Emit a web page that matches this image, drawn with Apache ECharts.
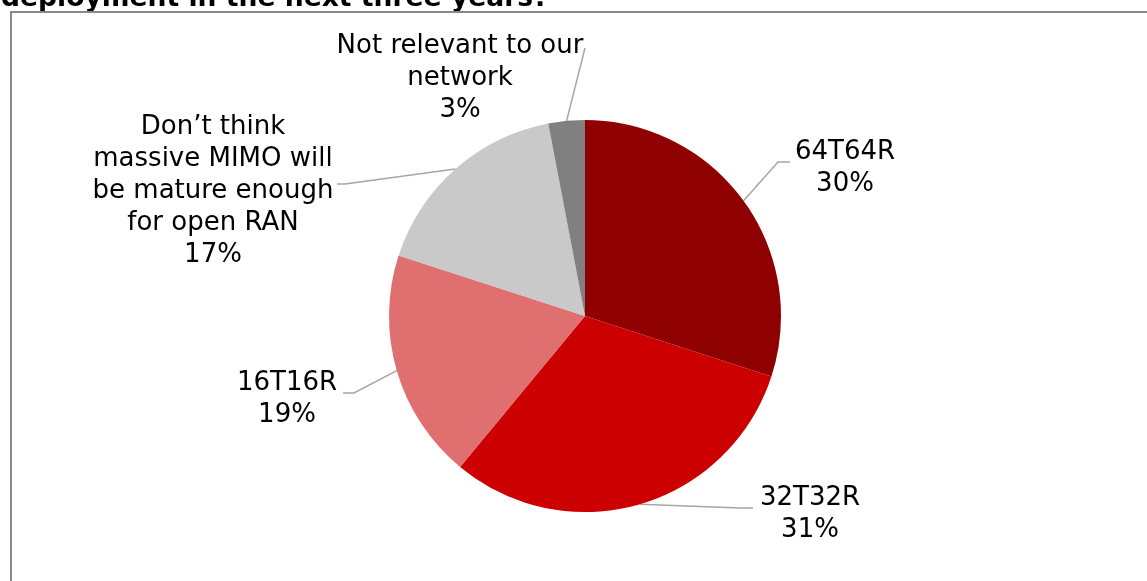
<!DOCTYPE html>
<html>
<head>
<meta charset="utf-8">
<script src="https://cdn.jsdelivr.net/npm/echarts@6/dist/echarts.min.js"></script>
<style>
  html, body { margin: 0; padding: 0; background: #ffffff; }
  #chart { width: 1147px; height: 581px; }
</style>
</head>
<body>
<div id="chart"></div>
<script>
// Survey answers, clockwise from 12 o'clock
const categories = [
  '64T64R',
  '32T32R',
  '16T16R',
  'Don\u2019t think\nmassive MIMO will\nbe mature enough\nfor open RAN',
  'Not relevant to our\nnetwork'
];
const shares = [30, 31, 19, 17, 3];
const sliceColors = ['#8F0000', '#CC0000', '#E06F6F', '#C9C9C9', '#808080'];

// Label block centres and leader-line bends (elbow, end), in px
const labelSpots = [[845, 168], [810, 514], [287, 399], [213, 191], [460, 78]];
const leaderBends = [
  [[778, 162], [790, 162]],
  [[740, 508], [753, 508]],
  [[354, 393], [343, 393]],
  [[345, 184], [337, 184]],
  [[585, 48], [585, 48]]
];

const FONT = '"DejaVu Sans", Verdana, sans-serif';

const chart = echarts.init(document.getElementById('chart'), null, { renderer: 'canvas' });

chart.setOption({
  animation: false,
  backgroundColor: '#ffffff',
  title: {
    text: 'deployment in the next three years?',
    left: 1,
    top: -14,
    padding: 0,
    z: 0,
    textStyle: { fontFamily: FONT, fontSize: 26.6, fontWeight: 'bold', color: '#000000' }
  },
  graphic: [
    {
      type: 'rect',
      z: 1,
      shape: { x: 11, y: 12, width: 1200, height: 640 },
      style: { fill: '#ffffff', stroke: '#898989', lineWidth: 2 }
    }
  ],
  series: [{
    type: 'pie',
    z: 2,
    center: [585, 316],
    radius: 196,
    startAngle: 90,
    clockwise: true,
    avoidLabelOverlap: false,
    itemStyle: { borderWidth: 0 },
    emphasis: { disabled: true },
    data: categories.map((name, i) => ({
      name: name,
      value: shares[i],
      itemStyle: { color: sliceColors[i] }
    })),
    label: {
      show: true,
      position: 'outside',
      formatter: '{b}\n{c}%',
      fontFamily: FONT,
      fontSize: 26,
      lineHeight: 32,
      color: '#000000',
      align: 'center'
    },
    labelLine: {
      show: true,
      length: 20,
      length2: 12,
      smooth: false,
      lineStyle: { color: '#A6A6A6', width: 1.5 }
    },
    labelLayout: function (params) {
      const i = params.dataIndex;
      const spot = labelSpots[i];
      const bend = leaderBends[i];
      const start = params.labelLinePoints ? params.labelLinePoints[0] : bend[0];
      return {
        x: spot[0],
        y: spot[1],
        align: 'center',
        verticalAlign: 'middle',
        labelLinePoints: [start, bend[0], bend[1]]
      };
    }
  }]
});
</script>
</body>
</html>
